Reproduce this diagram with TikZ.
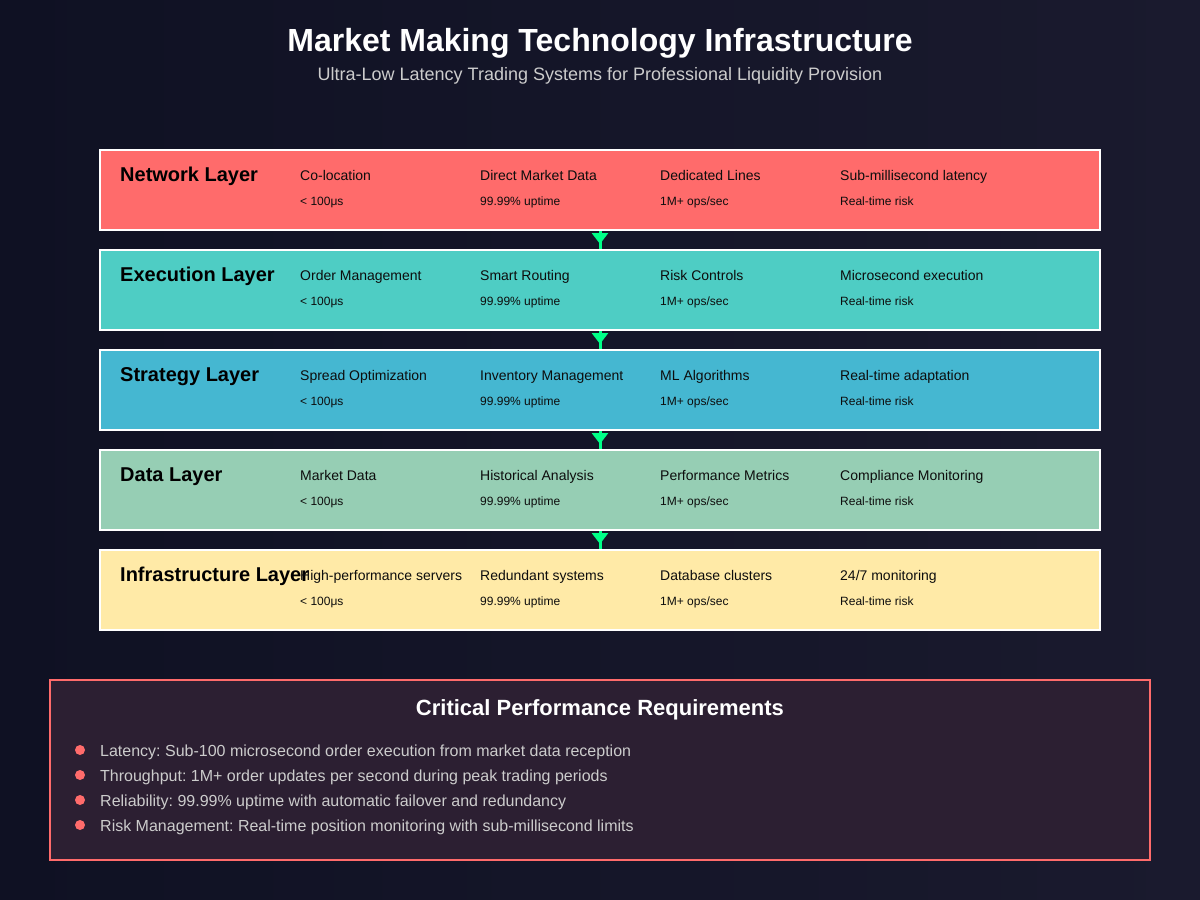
\documentclass[tikz,border=0pt]{standalone}
\usepackage{fontspec}
\setmainfont{Liberation Sans}
\usetikzlibrary{arrows.meta}
\frenchspacing
\definecolor{bgA}{HTML}{0F1123}
\definecolor{bgB}{HTML}{1A1A2E}
\definecolor{netc}{HTML}{FF6B6B}
\definecolor{exec}{HTML}{4ECDC4}
\definecolor{stratc}{HTML}{45B7D1}
\definecolor{datac}{HTML}{96CEB4}
\definecolor{infrac}{HTML}{FFEAA7}
\definecolor{arrowc}{HTML}{00FF88}
\definecolor{subtxt}{HTML}{CCCCCC}
\definecolor{reqfill}{HTML}{2C1F32}
\tikzset{
  layerbox/.style={draw=white, line width=2pt, minimum width=1000pt, minimum height=80pt, inner sep=0pt},
  layername/.style={anchor=base west, font=\fontsize{20}{24}\selectfont\bfseries, text=black, inner sep=0pt},
  item/.style={anchor=base west, font=\fontsize{14}{17}\selectfont, text=black!95, inner sep=0pt},
  metric/.style={anchor=base west, font=\fontsize{12}{14}\selectfont, text=black!95, inner sep=0pt},
  stem/.style={draw=arrowc, line width=3pt},
  flow/.style={draw=arrowc, line width=3pt, -{Triangle[width=16pt,length=11pt]}},
  bullet/.style={circle, fill=netc, minimum size=10pt, inner sep=0pt},
  reqtext/.style={anchor=base west, font=\fontsize{16}{19}\selectfont, text=subtxt, inner sep=0pt},
}
\begin{document}
\begin{tikzpicture}[x=1pt,y=-1pt]
\useasboundingbox (0,0) rectangle (1200,900);
\shade[left color=bgA, right color=bgB] (0,0) rectangle (1200,900);

\node[text=white, font=\fontsize{32}{38}\selectfont\bfseries, anchor=base] (title) at (600,51) {Market Making Technology Infrastructure};
\node[text=subtxt, font=\fontsize{18}{22}\selectfont, anchor=base] (subtitle) at (600,80) {Ultra-Low Latency Trading Systems for Professional Liquidity Provision};

% layers
\foreach \nm/\col/\yy/\lab/\a/\b/\c/\d in {
  net/netc/150/Network Layer/Co-location/Direct Market Data/Dedicated Lines/Sub-millisecond latency,
  exe/exec/250/Execution Layer/Order Management/Smart Routing/Risk Controls/Microsecond execution,
  str/stratc/350/Strategy Layer/Spread Optimization/Inventory Management/ML Algorithms/Real-time adaptation,
  dat/datac/450/Data Layer/Market Data/Historical Analysis/Performance Metrics/Compliance Monitoring,
  inf/infrac/550/Infrastructure Layer/High-performance servers/Redundant systems/Database clusters/{24/7 monitoring}}{
  \node[layerbox, fill=\col] (\nm) at (600,\yy+40) {};
  \node[layername] (\nm-lab) at (120,\yy+31) {\lab};
  \node[item] (\nm-i1) at (300,\yy+30) {\a};
  \node[item] (\nm-i2) at (480,\yy+30) {\b};
  \node[item] (\nm-i3) at (660,\yy+30) {\c};
  \node[item] (\nm-i4) at (840,\yy+30) {\d};
  \node[metric] (\nm-m1) at (300,\yy+55) {< 100μs};
  \node[metric] (\nm-m2) at (480,\yy+55) {99.99\% uptime};
  \node[metric] (\nm-m3) at (660,\yy+55) {1M+ ops/sec};
  \node[metric] (\nm-m4) at (840,\yy+55) {Real-time risk};
}

\foreach \p/\q in {net/exe, exe/str, str/dat, dat/inf}{
  \draw[stem] (\p.south) -- (\q.north);
  \draw[flow] (\p.south) -- ([yshift=5pt]\q.north);
}

% requirements box
\node[draw=netc, line width=2pt, fill=reqfill, minimum width=1100pt, minimum height=180pt, inner sep=0pt] (req) at (600,770) {};
\node[text=white, font=\fontsize{22}{26}\selectfont\bfseries, anchor=base] (reqtitle) at (600,715) {Critical Performance Requirements};
\node[bullet] (b1) at (80,750) {};
\node[bullet] (b2) at (80,775) {};
\node[bullet] (b3) at (80,800) {};
\node[bullet] (b4) at (80,825) {};
\node[reqtext] (r1) at (100,756) {Latency: Sub-100 microsecond order execution from market data reception};
\node[reqtext] (r2) at (100,781) {Throughput: 1M+ order updates per second during peak trading periods};
\node[reqtext] (r3) at (100,806) {Reliability: 99.99\% uptime with automatic failover and redundancy};
\node[reqtext] (r4) at (100,831) {Risk Management: Real-time position monitoring with sub-millisecond limits};
\end{tikzpicture}
\end{document}
